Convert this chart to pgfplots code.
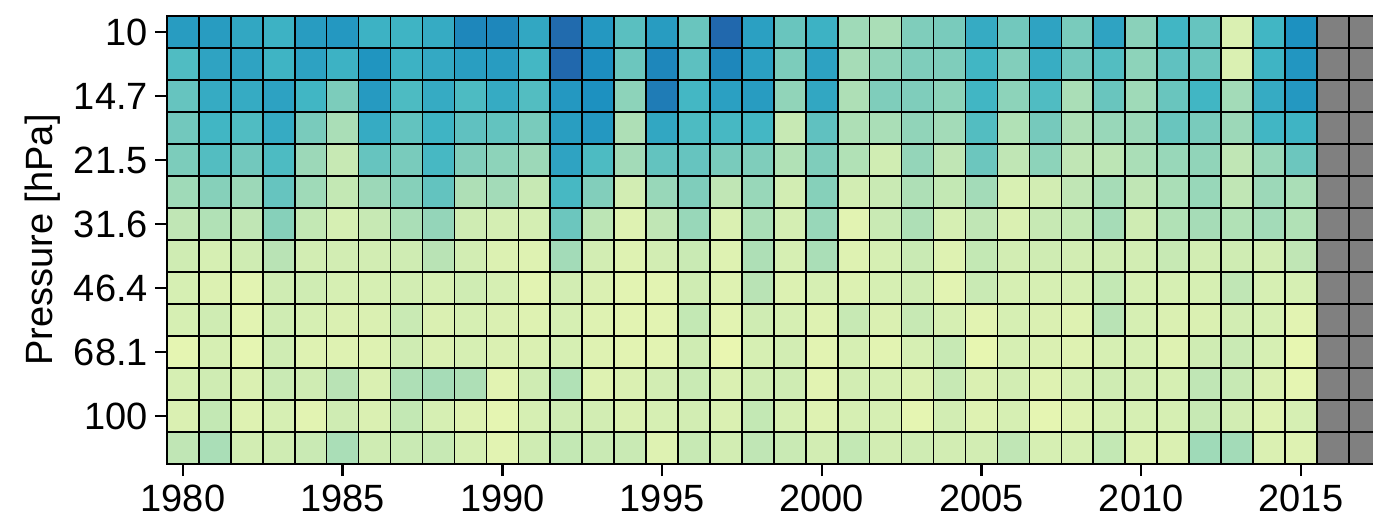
\documentclass[border=0pt]{standalone}
\usepackage{pgfplots}
\pgfplotsset{compat=1.18}
\usepackage{pgfplotstable}
\usepackage{fontspec}
\setmainfont{Liberation Sans}

% rows: years; columns p0..p13 = pressure levels 10 ... 121 hPa (colour-scale value)
\pgfplotstableread{
year p0 p1 p2 p3 p4 p5 p6 p7 p8 p9 p10 p11 p12 p13
1980 3.7 2.75 2.4 2.2 2.05 1.55 1.1 0.8 0.6 0.6 0.2 0.6 0.5 1.1
1981 3.7 3.5 3.3 3.0 2.7 1.9 1.3 0.6 0.45 0.8 0.6 0.8 1.05 1.4
1982 3.4 3.5 3.3 2.75 2.2 1.6 1.1 0.8 0.3 0.3 0.2 0.5 0.4 0.7
1983 3.1 3.05 3.55 3.3 2.8 2.4 1.9 1.2 0.8 0.8 0.8 0.95 0.6 0.8
1984 3.7 3.55 3.0 2.1 1.6 1.55 1.05 0.7 0.8 0.6 0.4 0.8 0.3 0.95
1985 3.8 3.1 2.05 1.4 1.0 1.05 0.6 0.7 0.6 0.5 0.4 1.2 0.8 1.4
1986 3.1 3.9 3.75 3.3 2.4 1.6 1.0 0.7 0.6 0.5 0.4 0.5 0.5 0.8
1987 3.05 3.1 2.8 2.45 2.1 1.9 1.4 0.8 0.7 0.95 0.8 1.35 1.05 0.95
1988 3.3 3.35 3.3 3.05 2.9 2.45 1.7 1.2 0.6 0.5 0.5 1.45 0.6 1.0
1989 4.2 3.65 2.8 2.5 1.95 1.35 0.8 0.7 0.8 0.6 0.6 1.35 0.4 0.6
1990 4.2 3.7 3.3 2.45 1.8 1.5 0.65 0.45 0.6 0.5 0.5 0.3 0.2 0.3
1991 3.4 2.95 2.7 2.1 1.6 1.0 0.65 0.4 0.3 0.4 0.5 0.8 0.6 0.8
1992 4.75 4.8 3.8 3.65 3.5 2.9 2.3 1.5 0.7 0.6 0.6 1.3 0.8 1.05
1993 3.8 4.05 4.0 3.8 2.8 1.95 1.15 0.7 0.5 0.4 0.4 0.4 0.7 0.95
1994 2.6 2.3 1.8 1.35 1.5 0.7 0.4 0.4 0.3 0.3 0.3 0.5 0.5 0.95
1995 3.7 4.2 4.4 3.4 2.45 1.65 1.1 0.7 0.3 0.3 0.3 0.7 0.6 0.4
1996 2.35 2.55 2.95 2.8 2.4 2.0 1.65 0.95 0.8 1.05 0.8 0.95 0.7 1.0
1997 4.8 4.2 3.6 2.9 2.1 1.1 0.5 0.4 0.4 0.3 0.1 0.5 0.5 0.7
1998 3.6 3.6 3.7 2.95 2.0 1.65 1.4 1.35 1.2 0.8 0.6 0.8 1.05 1.1
1999 2.35 2.05 1.75 1.0 1.3 0.7 0.65 0.6 0.45 0.6 0.7 0.8 0.6 0.95
2000 3.1 3.55 3.4 2.5 2.0 1.9 1.65 1.4 0.6 0.4 0.3 0.3 0.4 0.7
2001 1.55 1.45 1.35 1.35 1.3 0.7 0.3 0.4 0.45 1.0 0.6 0.7 0.6 1.05
2002 1.4 1.75 2.0 1.4 0.75 0.95 0.95 0.6 0.6 0.5 0.3 0.6 0.6 0.7
2003 2.0 2.0 2.0 1.75 1.7 1.35 1.35 0.95 0.8 1.0 0.6 0.5 0.2 0.8
2004 2.1 2.0 1.8 1.5 1.1 1.05 0.6 0.4 0.3 0.6 1.0 1.0 0.7 0.7
2005 3.3 3.0 3.0 2.7 2.3 1.5 1.1 1.05 0.95 0.3 0.15 0.5 0.4 0.7
2006 2.2 1.95 1.8 1.3 1.1 0.55 0.5 0.7 0.6 0.6 0.6 0.7 0.6 1.1
2007 3.5 3.25 2.75 2.15 1.8 0.7 1.0 0.8 0.6 0.5 0.5 0.4 0.2 0.6
2008 2.1 2.2 1.4 1.35 1.1 1.1 1.05 0.7 0.6 0.4 0.4 0.6 0.4 0.6
2009 3.5 2.7 2.35 1.65 1.15 1.45 1.45 0.8 1.05 1.2 0.6 0.8 0.6 1.05
2010 1.85 1.8 1.55 1.6 1.4 1.1 0.8 0.7 0.6 0.6 0.6 0.7 0.6 0.5
2011 3.0 2.5 2.35 2.35 1.65 1.4 1.3 1.0 0.6 0.5 0.4 0.6 0.6 0.5
2012 2.4 2.3 3.0 2.1 1.75 1.65 1.45 0.7 0.6 0.5 0.8 1.1 1.0 1.55
2013 0.5 0.5 1.5 1.6 1.1 1.1 1.3 0.8 1.1 0.7 0.95 1.0 0.7 1.5
2014 3.0 3.05 3.3 3.0 1.65 1.6 1.5 0.7 0.6 0.6 0.6 0.5 0.4 0.5
2015 4.0 3.85 3.8 3.05 2.3 1.4 1.3 1.1 0.6 0.3 0.15 0.2 0.6 0.4
}\ratio

\begin{document}
\begin{tikzpicture}
\begin{axis}[
  scale only axis,
  width=606.9pt, height=224pt,
  xmin=1979.5, xmax=2017.5, ymin=-0.5, ymax=13.5, y dir=reverse,
  axis x line*=bottom, axis y line*=left,
  axis line style={line width=1pt, black},
  xtick={1980,1985,...,2015},
  ytick={0,2,...,12},
  yticklabels={10,14.7,21.5,31.6,46.4,68.1,100},
  /pgf/number format/assume math mode=true,
  /pgf/number format/1000 sep={},
  tick align=outside, major tick length=6pt,
  tick style={line width=1.2pt, black},
  ticklabel style={font=\fontsize{19}{22}\selectfont},
  xticklabel style={yshift=-1pt},
  ylabel={Pressure [hPa]},
  ylabel style={font=\fontsize{19}{22}\selectfont},
  colormap={ygb}{rgb255(0)=(237,248,177) rgb255(1)=(199,233,180) rgb255(2)=(127,205,187) rgb255(3)=(65,182,196) rgb255(4)=(29,145,192) rgb255(5)=(34,94,168)},
  point meta min=0, point meta max=5,
  clip=false,
]
\pgfplotsinvokeforeach{0,...,13}{
  \addplot[scatter, only marks, mark=square*, mark size=8pt,
    point meta=explicit,
    scatter/use mapped color={draw=black, fill=mapped color},
    mark options={line width=0.8pt}]
    table[x=year, y expr=#1, meta=p#1]{\ratio};
}
\addplot[only marks, mark=square*, mark size=8pt,
  mark options={fill=gray, draw=black, line width=0.8pt}] coordinates {
  (2016,0) (2016,1) (2016,2) (2016,3) (2016,4) (2016,5) (2016,6) (2016,7) (2016,8) (2016,9) (2016,10) (2016,11) (2016,12) (2016,13)
  (2017,0) (2017,1) (2017,2) (2017,3) (2017,4) (2017,5) (2017,6) (2017,7) (2017,8) (2017,9) (2017,10) (2017,11) (2017,12) (2017,13)
};
\coordinate (ll) at (axis cs:1979.5,13.5);
\coordinate (ul) at (axis cs:1979.5,-0.5);
\end{axis}
\pgfresetboundingbox
\path[use as bounding box] ([xshift=-83.5pt,yshift=-27pt]ll) rectangle ([xshift=603pt,yshift=8pt]ul);
\end{tikzpicture}
\end{document}
